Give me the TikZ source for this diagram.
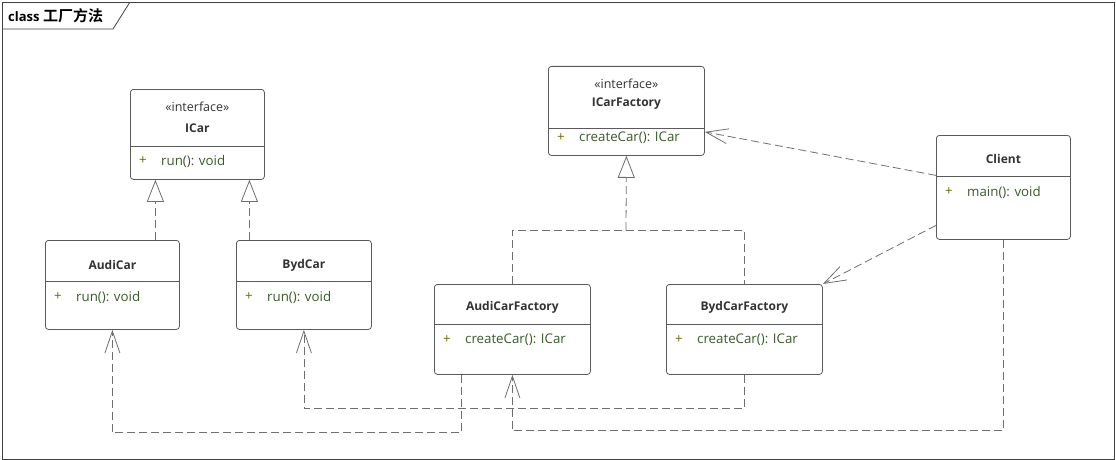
\documentclass[tikz,border=0pt]{standalone}
\usepackage{fontspec}
\setmainfont{Open Sans}
\newfontfamily\cjk{Noto Sans CJK SC}[BoldFont={* Bold}]
\usetikzlibrary{arrows.meta}

\definecolor{frameGray}{HTML}{404040}
\definecolor{boxGray}{HTML}{5A5A5A}
\definecolor{lineGray}{HTML}{6E6E6E}
\definecolor{nameText}{HTML}{333333}
\definecolor{opText}{HTML}{3A5A2A}
\definecolor{plusText}{HTML}{6B6B00}

\tikzset{
  umlbox/.style={draw=boxGray, fill=white, rounded corners=3pt, line width=0.8pt,
    inner sep=0pt, anchor=north west},
  divider/.style={draw=boxGray, line width=0.8pt},
  classname/.style={font=\fontsize{12}{14}\selectfont\bfseries, text=nameText, inner sep=0pt},
  stereo/.style={font=\fontsize{12.5}{14}\selectfont, text=nameText, inner sep=0pt},
  optext/.style={font=\fontsize{13.3}{15}\selectfont, text=opText, inner sep=0pt, anchor=west},
  optplus/.style={font=\fontsize{13.3}{15}\selectfont, text=plusText, inner sep=0pt, anchor=west},
  dashline/.style={draw=lineGray, line width=0.8pt, dash pattern=on 8pt off 4pt},
  dep/.style={dashline, -{Straight Barb[length=22pt, width=15pt]}},
  realize/.style={dashline, -{Triangle[length=22pt, width=17pt, fill=white]}}
}

\begin{document}
\begin{tikzpicture}[x=1pt, y=-1pt]
\useasboundingbox (0,0) rectangle (1116,460);
% frame and title tab
\draw [frameGray, line width=0.8pt] (2,2) rectangle (1114,459);
\draw [frameGray, line width=0.8pt] (2,29) -- (113,29) -- (130,2);
\node (title) [anchor=west, inner sep=0pt, text=black] at (8,16)
  {\fontsize{13}{15}\selectfont\bfseries class {\cjk\fontsize{15}{17}\selectfont 工厂方法}};

% ICar
\node (icar) [umlbox, minimum width=134pt, minimum height=90pt] at (130,89) {};
\draw [divider] ([yshift=-57pt]icar.north west) -- ([yshift=-57pt]icar.north east);
\node (icarst) [stereo] at ([yshift=-18pt]icar.north) {«interface»};
\node (icarnm) [classname] at ([yshift=-39pt]icar.north) {ICar};
\node (icarpl) [optplus] at ([xshift=9pt, yshift=-72pt]icar.north west) {+};
\node (icarop) [optext] at ([xshift=31pt, yshift=-72pt]icar.north west) {run(): void};

% ICarFactory
\node (icarfac) [umlbox, minimum width=156pt, minimum height=89pt] at (548,66) {};
\draw [divider] ([yshift=-62pt]icarfac.north west) -- ([yshift=-62pt]icarfac.north east);
\node (icarfacst) [stereo] at ([yshift=-18pt]icarfac.north) {«interface»};
\node (icarfacnm) [classname] at ([yshift=-38pt]icarfac.north) {ICarFactory};
\node (icarfacpl) [optplus] at ([xshift=9pt, yshift=-72pt]icarfac.north west) {+};
\node (icarfacop) [optext] at ([xshift=31pt, yshift=-72pt]icarfac.north west) {createCar(): ICar};

% Client
\node (client) [umlbox, minimum width=134pt, minimum height=104pt] at (936,135) {};
\draw [divider] ([yshift=-41pt]client.north west) -- ([yshift=-41pt]client.north east);
\node (clientnm) [classname] at ([yshift=-24pt]client.north) {Client};
\node (clientpl) [optplus] at ([xshift=9pt, yshift=-57pt]client.north west) {+};
\node (clientop) [optext] at ([xshift=31pt, yshift=-57pt]client.north west) {main(): void};

% AudiCar
\node (audicar) [umlbox, minimum width=134pt, minimum height=89pt] at (45,240) {};
\draw [divider] ([yshift=-41pt]audicar.north west) -- ([yshift=-41pt]audicar.north east);
\node (audicarnm) [classname] at ([yshift=-25pt]audicar.north) {AudiCar};
\node (audicarpl) [optplus] at ([xshift=9pt, yshift=-57pt]audicar.north west) {+};
\node (audicarop) [optext] at ([xshift=31pt, yshift=-57pt]audicar.north west) {run(): void};

% BydCar
\node (bydcar) [umlbox, minimum width=135pt, minimum height=89pt] at (236,240) {};
\draw [divider] ([yshift=-41pt]bydcar.north west) -- ([yshift=-41pt]bydcar.north east);
\node (bydcarnm) [classname] at ([yshift=-25pt]bydcar.north) {BydCar};
\node (bydcarpl) [optplus] at ([xshift=9pt, yshift=-57pt]bydcar.north west) {+};
\node (bydcarop) [optext] at ([xshift=31pt, yshift=-57pt]bydcar.north west) {run(): void};

% AudiCarFactory
\node (audifac) [umlbox, minimum width=156pt, minimum height=90pt] at (434,284) {};
\draw [divider] ([yshift=-40pt]audifac.north west) -- ([yshift=-40pt]audifac.north east);
\node (audifacnm) [classname] at ([yshift=-23pt]audifac.north) {AudiCarFactory};
\node (audifacpl) [optplus] at ([xshift=9pt, yshift=-56pt]audifac.north west) {+};
\node (audifacop) [optext] at ([xshift=31pt, yshift=-56pt]audifac.north west) {createCar(): ICar};

% BydCarFactory
\node (bydfac) [umlbox, minimum width=156pt, minimum height=90pt] at (666,284) {};
\draw [divider] ([yshift=-40pt]bydfac.north west) -- ([yshift=-40pt]bydfac.north east);
\node (bydfacnm) [classname] at ([yshift=-23pt]bydfac.north) {BydCarFactory};
\node (bydfacpl) [optplus] at ([xshift=9pt, yshift=-56pt]bydfac.north west) {+};
\node (bydfacop) [optext] at ([xshift=31pt, yshift=-56pt]bydfac.north west) {createCar(): ICar};

% realizations
\draw [realize] ([xshift=43pt]audicar.north) -- ([xshift=43pt]audicar.north |- icar.south);
\draw [realize] ([xshift=-54.5pt]bydcar.north) -- ([xshift=-54.5pt]bydcar.north |- icar.south);
\coordinate (facjoin) at (626,230);
\draw [dashline] (audifac.north) |- (facjoin) -| (bydfac.north);
\draw [realize] (facjoin) -- (icarfac.south);

% dependencies
\draw [dep] ([yshift=12pt]client.west) -- ([yshift=-21pt]icarfac.east);
\draw [dep] ([yshift=-38pt]client.west) -- (bydfac.north east);
\draw [dep] ([xshift=-51pt]audifac.south) -- ++(0,58) -| (audicar.south);
\draw [dep] (bydfac.south) -- ++(0,34) -| (bydcar.south);
\draw [dep] (client.south) -- ++(0,191) -| (audifac.south);
\end{tikzpicture}
\end{document}
